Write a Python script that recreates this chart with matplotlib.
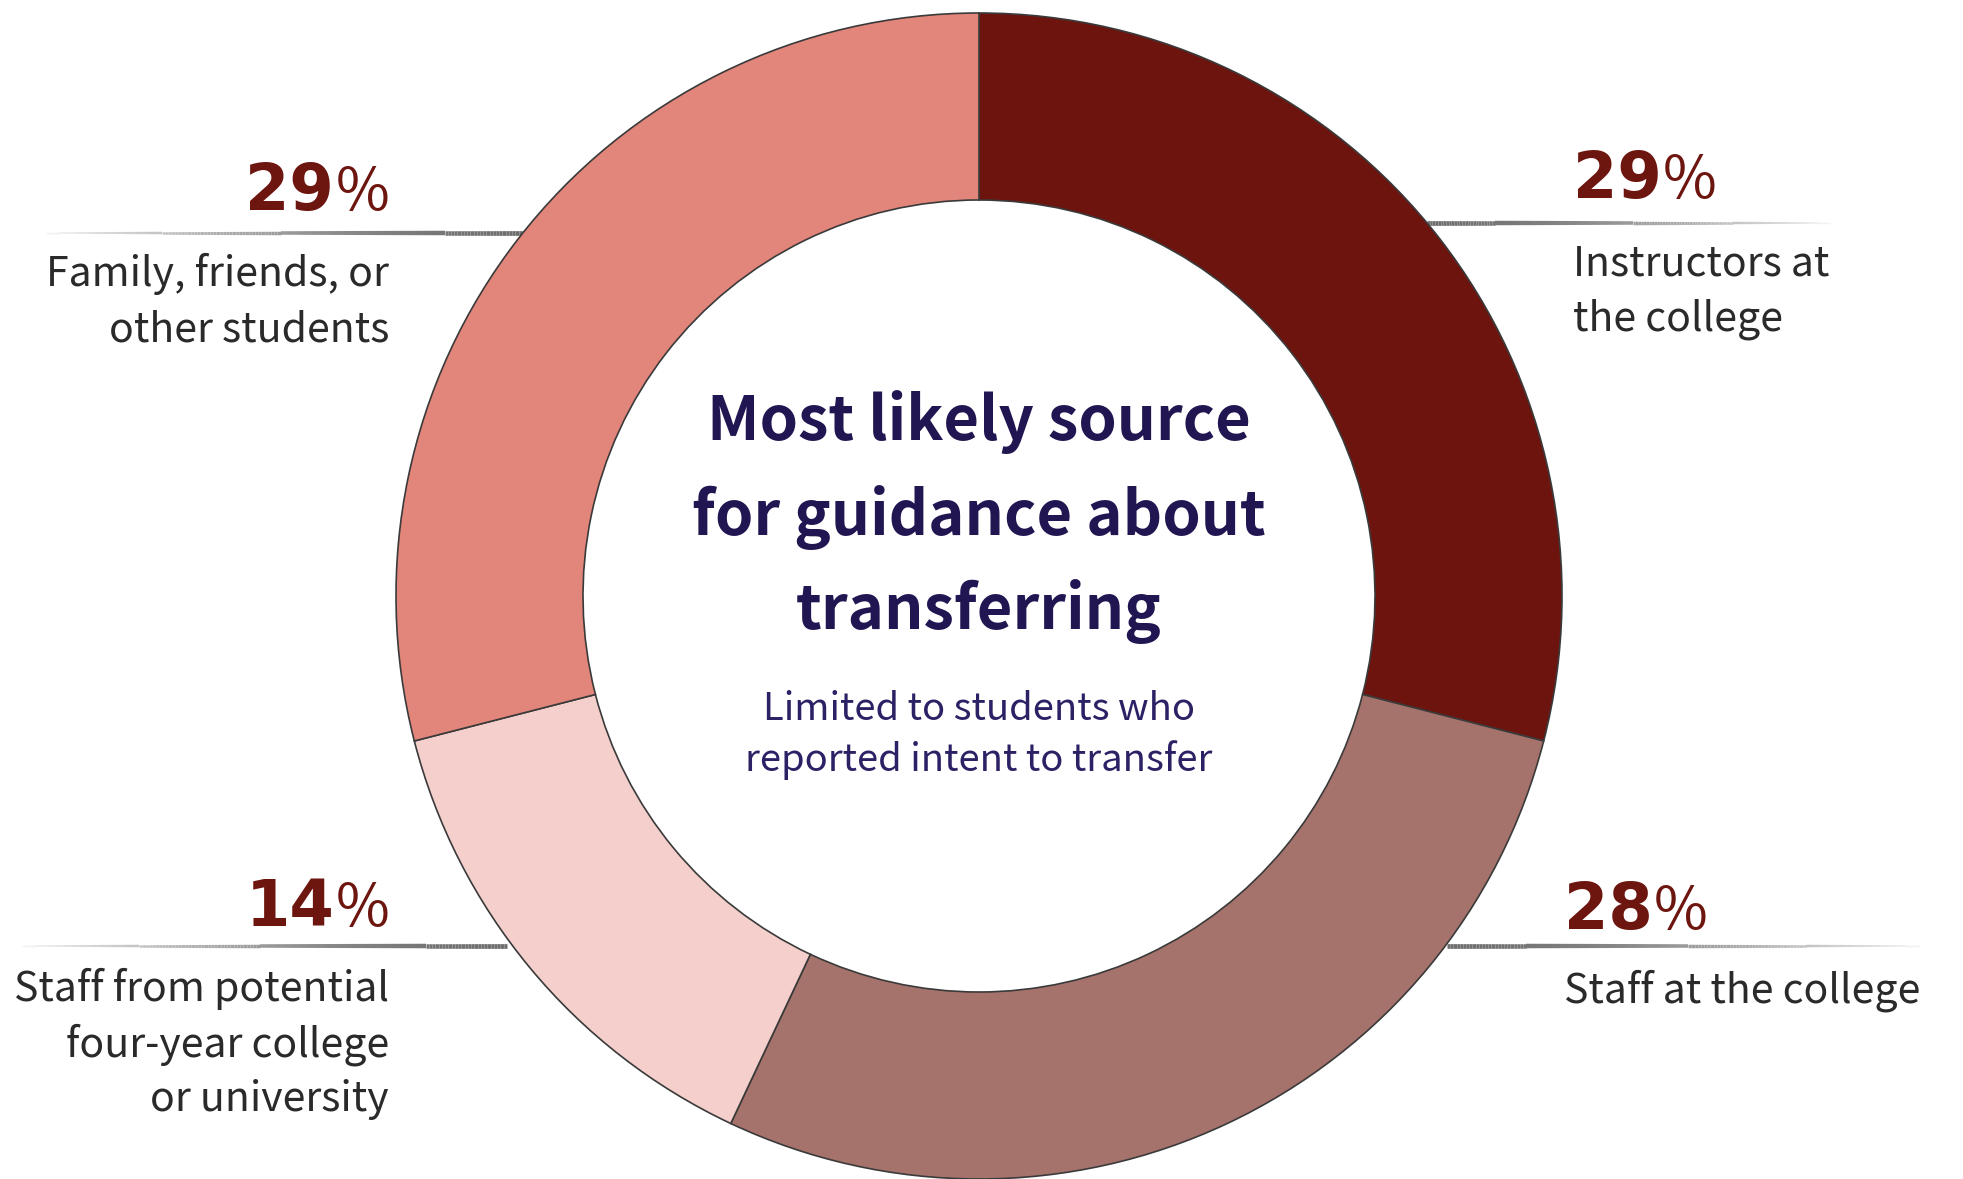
import matplotlib.pyplot as plt
import numpy as np
from matplotlib.collections import LineCollection
from matplotlib.colors import to_rgb

W, H = 1963, 1179

# data, clockwise from 12 o'clock
categories = [
    "Instructors at\nthe college",
    "Staff at the college",
    "Staff from potential\nfour-year college\nor university",
    "Family, friends, or\nother students",
]
shares = [29, 28, 14, 29]
slice_colors = ["#6D140F", "#A6736C", "#F4CFCB", "#E2857A"]

title_lines = ["Most likely source", "for guidance about", "transferring"]
subtitle_lines = ["Limited to students who", "reported intent to transfer"]

# layout (pixel coords, y from top)
cx, cy, r_out, r_in = 979, 596, 583, 396
# side, anchor x, pct baseline, leader y, leader x0, x1, first label baseline
label_layout = [
    ("right", 1573, 198, 223, 1427, 1830, 276),
    ("right", 1564, 929, 946, 1447, 1920, 1003),
    ("left", 389, 926, 946, 22, 507, 1001),
    ("left", 389, 210, 233, 46, 525, 286),
]
label_gap = 55

SANS = ["Noto Sans CJK SC", "DejaVu Sans"]
PCT_COLOR = "#6D150F"
TEXT_COLOR = "#2A2A2A"
NAVY = "#221652"

fig = plt.figure(figsize=(W / 100, H / 100), dpi=100)
ax = fig.add_axes([0, 0, 1, 1])


def Y(y):
    return H - y


def fade_line(x0, x1, y, dark_at_left):
    xs = np.linspace(x0, x1, 150)
    segs = [[(xs[i], Y(y)), (xs[i + 1], Y(y))] for i in range(len(xs) - 1)]
    t = np.linspace(0, 1, len(segs))
    if not dark_at_left:
        t = t[::-1]
    dark = np.array(to_rgb("#6e6e6e"))
    light = np.array(to_rgb("#f2f2f2"))
    cols = [dark + (light - dark) * k ** 1.6 for k in t]
    lws = 3.4 - 2.4 * t ** 1.5
    ax.add_collection(LineCollection(segs, colors=cols, linewidths=lws,
                                     capstyle="butt", zorder=1))


ax.pie(shares, colors=slice_colors, startangle=90, counterclock=False,
       radius=r_out, center=(cx, Y(cy)),
       wedgeprops=dict(width=r_out - r_in, edgecolor="#3a3a3a", linewidth=1.2, zorder=2))

ax.set_xlim(0, W)
ax.set_ylim(0, H)
ax.set_aspect("equal")
ax.axis("off")

renderer = fig.canvas.get_renderer()

for cat, val, (side, x, py, ly, lx0, lx1, by) in zip(categories, shares, label_layout):
    fade_line(lx0, lx1, ly, dark_at_left=(side == "right"))
    num_kw = dict(fontsize=46, fontweight="bold", family="DejaVu Sans",
                  color=PCT_COLOR, va="baseline")
    pct_kw = dict(fontsize=42, fontweight="light", family=SANS,
                  color=PCT_COLOR, va="baseline")
    align = "right" if side == "left" else "left"
    if side == "left":
        t = ax.text(x, Y(py), "%", ha="right", **pct_kw)
        w = t.get_window_extent(renderer).width
        ax.text(x - w - 1, Y(py), str(val), ha="right", **num_kw)
    else:
        t = ax.text(x, Y(py), str(val), ha="left", **num_kw)
        w = t.get_window_extent(renderer).width
        ax.text(x + w + 1, Y(py), "%", ha="left", **pct_kw)
    for i, line in enumerate(cat.split("\n")):
        ax.text(x, Y(by + i * label_gap), line, ha=align, va="baseline",
                fontsize=29.5, family=SANS, color=TEXT_COLOR)

for i, line in enumerate(title_lines):
    ax.text(cx, Y(422 + i * 95), line, ha="center", va="center",
            fontsize=44.3, fontweight="bold", family=SANS, color=NAVY)
for i, line in enumerate(subtitle_lines):
    ax.text(cx, Y(710 + i * 50), line, ha="center", va="center",
            fontsize=27.5, family=SANS, color="#2B2266")

fig.savefig("out.png", dpi=100, facecolor="white")
